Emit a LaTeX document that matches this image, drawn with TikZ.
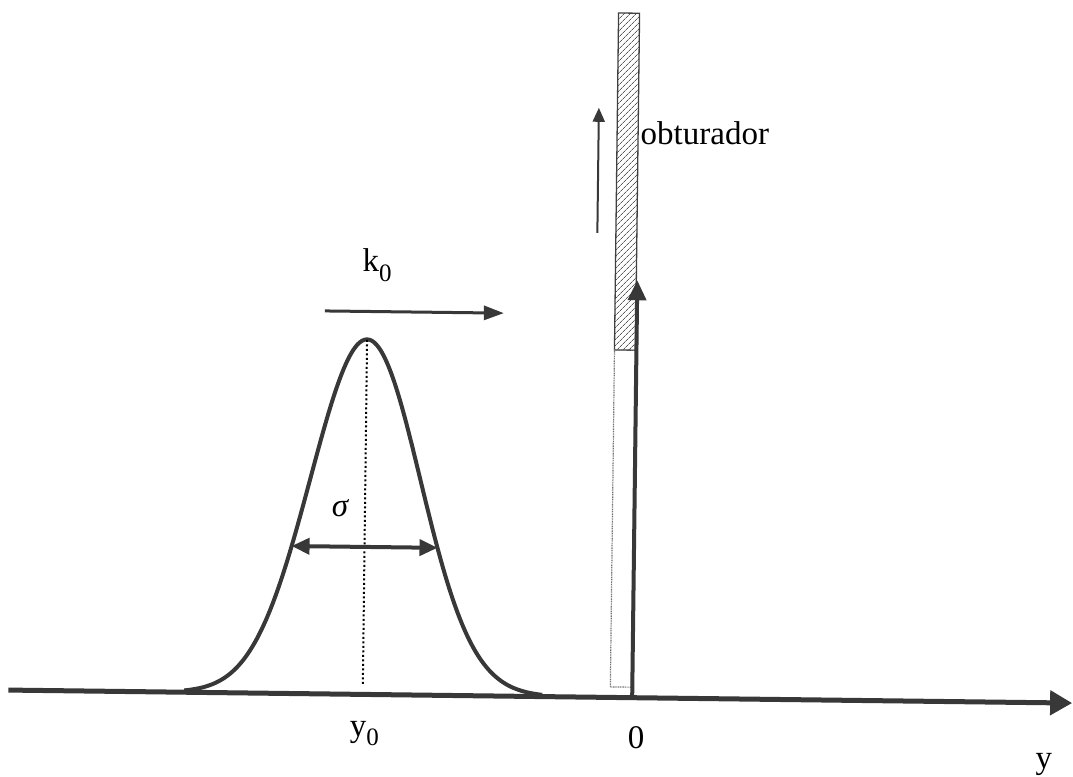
\documentclass[tikz,border=0pt]{standalone}
\usepackage{fontspec}
\setmainfont{Liberation Serif}
\usetikzlibrary{arrows.meta,patterns.meta}
\newcommand\subz[1]{\raisebox{-0.28em}{\fontsize{25}{25}\selectfont #1}}
\begin{document}
\begin{tikzpicture}[x=1pt,y=1pt,
  ink/.style={draw=black!78},
  lbl/.style={font=\fontsize{33}{33}\selectfont, inner sep=0pt, text=black},
  axisline/.style={ink, line width=5pt, -{Triangle[length=22pt,width=24pt]}},
  curveline/.style={ink, line width=4pt, line join=round},
  medarrow/.style={ink, line width=3pt, -{Triangle[length=20pt,width=14pt]}},
  thickarrow/.style={ink, line width=4pt, -{Triangle[length=20pt,width=18pt]}},
  thinarrow/.style={ink, line width=2pt, -{Triangle[length=14pt,width=12pt]}},
  sigarrow/.style={ink, line width=4pt, {Triangle[length=18pt,width=16pt]}-{Triangle[length=18pt,width=16pt]}},
  dotline/.style={draw=black, line width=2pt, dash pattern=on 2pt off 2.5pt},
]
\useasboundingbox (0,0) rectangle (1073,776);
\begin{scope}[rotate around={-0.7:(536,388)}]
  % axis
  \coordinate (axL) at (12,79.5);
  \coordinate (axR) at (1076,79.5);
  \draw[axisline] (axL) -- (axR);
  % gaussian
  \draw[curveline] plot[domain=188:546, samples=160, smooth]
     (\x, {79.5+355*exp(-0.5*((\x-366.5)/55)^2)});
  \coordinate (peak) at (366.5,434);
  \coordinate (foot) at (366.5,88);
  \draw[dotline] (peak) -- (foot);
  % sigma arrow
  \coordinate (sL) at (293.5,227);
  \coordinate (sR) at (439.5,227);
  \draw[sigarrow] (sL) -- (sR);
  \node[lbl, font=\fontsize{33}{33}\selectfont\itshape] (sigma) at (341.5,265.5) {σ};
  % k0 arrow
  \coordinate (kL) at (324,462.5);
  \coordinate (kR) at (503,462.5);
  \draw[medarrow] (kL) -- (kR);
  \node[lbl, anchor=base west] (k0) at (361,502) {k\subz{0}};
  % shutter
  \path[pattern={Lines[angle=45,distance=4pt,line width=0.8pt]}, pattern color=black!65]
     (614,427) rectangle (635,764);
  \draw[black!75, line width=1.3pt] (614,427) rectangle (635,764);
  \draw[black!55, line width=1.2pt, dash pattern=on 1pt off 0.7pt] (614,90) rectangle (635,427);
  \coordinate (sbot) at (636,81);
  \coordinate (stop) at (636,497);
  \draw[thickarrow] (sbot) -- (stop);
  \coordinate (uB) at (595.5,544);
  \coordinate (uT) at (595.5,669);
  \draw[thinarrow] (uB) -- (uT);
  \node[lbl, anchor=base west] (obt) at (637.5,633) {obturador};
  % axis labels
  \node[lbl, anchor=base west] (y0) at (354,37) {y\subz{0}};
  \node[lbl, anchor=base west] (zero) at (632,29) {0};
  \node[lbl, anchor=base west] (ylab) at (1040,14) {y};
\end{scope}
\end{tikzpicture}
\end{document}
